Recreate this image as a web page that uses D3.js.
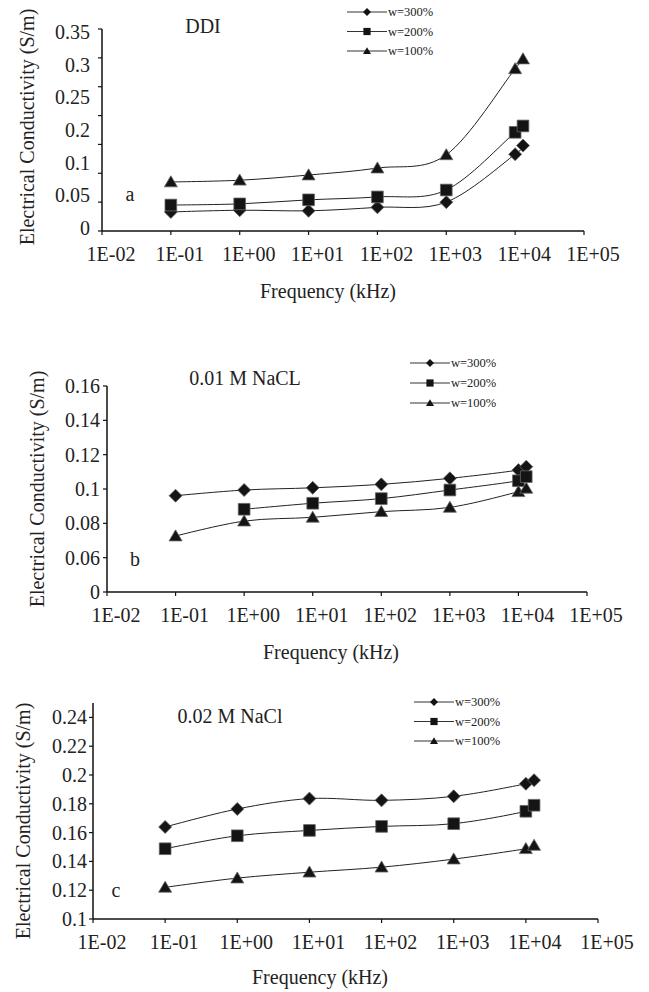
<!DOCTYPE html>
<html>
<head>
<meta charset="utf-8">
<script src="https://cdn.jsdelivr.net/npm/d3@7"></script>
<style>
  body { margin: 0; background: #fff; }
</style>
</head>
<body>
<div id="chart"></div>
<script>
// frequencies (kHz), same for all three panels
var freq = [0.1, 1, 10, 100, 1000, 10000, 13000];
var xTickValues = [1e-2, 1e-1, 1e0, 1e1, 1e2, 1e3, 1e4, 1e5];
var xTickLabels = ["1E-02", "1E-01", "1E+00", "1E+01", "1E+02", "1E+03", "1E+04", "1E+05"];
var seriesNames = ["w=300%", "w=200%", "w=100%"];
var seriesShapes = ["diamond", "square", "triangle"];

// panel a: DDI
var ddiW300 = [0.033, 0.036, 0.035, 0.041, 0.050, 0.133, 0.148];
var ddiW200 = [0.045, 0.047, 0.054, 0.059, 0.071, 0.171, 0.182];
var ddiW100 = [0.085, 0.088, 0.097, 0.109, 0.132, 0.281, 0.298];
var ddiYTicks = [0, 0.05, 0.1, 0.15, 0.2, 0.25, 0.3, 0.35];
var ddiYLabels = ["0", "0.05", "0.1", "0.2", "0.25", "0.3", "0.35"];

// panel b: 0.01 M NaCl
var nacl1W300 = [0.0961, 0.0994, 0.1007, 0.1027, 0.1062, 0.1110, 0.1130];
var nacl1W200 = [null, 0.0882, 0.0917, 0.0944, 0.0994, 0.1048, 0.1072];
var nacl1W100 = [0.0726, 0.0813, 0.0835, 0.0868, 0.0893, 0.0984, 0.1004];
var nacl1YTicks = [0.04, 0.06, 0.08, 0.10, 0.12, 0.14, 0.16];
var nacl1YLabels = ["0", "0.06", "0.08", "0.1", "0.12", "0.14", "0.16"];

// panel c: 0.02 M NaCl
var nacl2W300 = [0.1639, 0.1764, 0.1836, 0.1824, 0.1852, 0.1939, 0.1964];
var nacl2W200 = [0.1488, 0.1578, 0.1615, 0.1643, 0.1662, 0.1748, 0.1790];
var nacl2W100 = [0.1220, 0.1284, 0.1325, 0.1360, 0.1416, 0.1488, 0.1511];
var nacl2YTicks = [0.10, 0.12, 0.14, 0.16, 0.18, 0.20, 0.22, 0.24];
var nacl2YLabels = ["0.1", "0.12", "0.14", "0.16", "0.18", "0.2", "0.22", "0.24"];

var serif = "'Liberation Serif', 'Times New Roman', Times, serif";

var svg = d3.select("#chart").append("svg")
    .attr("width", 649)
    .attr("height", 992)
    .style("font-family", serif);

function txt(sel, size) {
    return sel.style("font-family", serif)
        .style("font-size", size + "px")
        .attr("fill", "#222");
}

function markerPath(shape, s) {
    if (shape == "diamond") return "M0," + (-s) + "L" + s + ",0L0," + s + "L" + (-s) + ",0Z";
    if (shape == "square") { var h = s * 0.9; return "M" + (-h) + "," + (-h) + "H" + h + "V" + h + "H" + (-h) + "Z"; }
    return "M0," + (-s * 0.95) + "L" + s + "," + (s * 0.75) + "L" + (-s) + "," + (s * 0.75) + "Z";
}

function drawPanel(p) {
    var g = svg.append("g");
    var x = d3.scaleLog().domain([1e-2, 1e5]).range([p.left, p.right]);
    var y = d3.scaleLinear().domain(p.yDomain).range([p.bottom, p.top]);

    // axes lines
    g.append("line").attr("x1", p.left).attr("x2", p.left).attr("y1", p.top).attr("y2", p.bottom)
        .attr("stroke", "#111").attr("stroke-width", 1.5);
    g.append("line").attr("x1", p.left).attr("x2", p.right).attr("y1", p.bottom).attr("y2", p.bottom)
        .attr("stroke", "#111").attr("stroke-width", 1.5);

    // y ticks
    g.selectAll(".yt").data(p.yTicks).enter().append("line")
        .attr("x1", p.left - 4).attr("x2", p.left)
        .attr("y1", d => y(d)).attr("y2", d => y(d))
        .attr("stroke", "#111").attr("stroke-width", 1.2);

    // y tick labels (panel a labels are evenly spread, not on the ticks)
    var ly;
    if (p.labelPoints) {
        var pt = d3.scalePoint().domain(p.yLabels).range(p.labelRange);
        ly = (d, i) => pt(d);
    } else {
        ly = (d, i) => y(p.yTicks[i]);
    }
    txt(g.selectAll(".yl").data(p.yLabels).enter().append("text"), 20)
        .attr("x", p.left - p.labelGap)
        .attr("y", (d, i) => ly(d, i))
        .attr("dy", "0.35em")
        .attr("text-anchor", "end")
        .text(d => d);

    // x ticks
    g.selectAll(".xt").data(xTickValues).enter().append("line")
        .attr("x1", d => x(d)).attr("x2", d => x(d))
        .attr("y1", p.bottom).attr("y2", p.bottom + 4)
        .attr("stroke", "#111").attr("stroke-width", 1.2);
    txt(g.selectAll(".xl").data(xTickLabels).enter().append("text"), 20)
        .attr("x", (d, i) => x(xTickValues[i]) + 9)
        .attr("y", p.bottom + 30)
        .attr("text-anchor", "middle")
        .text(d => d);

    // axis titles
    txt(g.append("text"), 20)
        .attr("x", p.xTitleX).attr("y", p.xTitleY)
        .attr("text-anchor", "middle")
        .text("Frequency (kHz)");
    txt(g.append("text"), 20)
        .attr("transform", "translate(" + p.yTitleX + "," + p.yTitleY + ") rotate(-90)")
        .attr("text-anchor", "middle")
        .attr("dy", "0.35em")
        .text("Electrical Conductivity (S/m)");

    // panel title and letter
    txt(g.append("text"), 20).attr("x", p.titleX).attr("y", p.titleY)
        .attr("text-anchor", "middle").text(p.title);
    txt(g.append("text"), 20).attr("x", p.letterX).attr("y", p.letterY)
        .attr("text-anchor", "middle").text(p.letter);

    // smoothed lines, like the spreadsheet's "smoothed line" option
    var line = d3.line()
        .x(d => x(d[0]))
        .y(d => y(d[1]))
        .curve(d3.curveCardinal.tension(0));

    p.series.forEach(function(vals, k) {
        var pts = freq.map((f, i) => [f, vals[i]]).filter(d => d[1] != null);
        g.append("path").datum(pts)
            .attr("d", line)
            .attr("fill", "none")
            .attr("stroke", "#222")
            .attr("stroke-width", 1);
    });
    p.series.forEach(function(vals, k) {
        var pts = freq.map((f, i) => [f, vals[i]]).filter(d => d[1] != null);
        g.selectAll(".m" + k).data(pts).enter().append("path")
            .attr("transform", d => "translate(" + x(d[0]) + "," + y(d[1]) + ")")
            .attr("d", markerPath(seriesShapes[k], 6.5))
            .attr("fill", "#141414")
            .attr("stroke", "#666")
            .attr("stroke-width", 0.8);
    });

    // legend
    var leg = g.append("g");
    seriesNames.forEach(function(name, k) {
        var ry = p.legendY + k * p.legendStep;
        leg.append("line").attr("x1", p.legendX).attr("x2", p.legendX + 40)
            .attr("y1", ry).attr("y2", ry).attr("stroke", "#333").attr("stroke-width", 1);
        leg.append("path").attr("transform", "translate(" + (p.legendX + 20) + "," + ry + ")")
            .attr("d", markerPath(seriesShapes[k], 4))
            .attr("fill", "#141414");
        txt(leg.append("text"), 12.5).attr("x", p.legendX + 41).attr("y", ry).attr("dy", "0.35em")
            .text(name);
    });
}

drawPanel({
    left: 102, right: 584, top: 29, bottom: 231,
    yDomain: [0, 0.35], yTicks: ddiYTicks, yLabels: ddiYLabels,
    labelPoints: true, labelRange: [228, 32], labelGap: 12,
    series: [ddiW300, ddiW200, ddiW100],
    xTitleX: 328, xTitleY: 298, yTitleX: 27, yTitleY: 127,
    title: "DDI", titleX: 203, titleY: 33, letter: "a", letterX: 130, letterY: 201,
    legendX: 347, legendY: 12, legendStep: 19.5
});

drawPanel({
    left: 107, right: 587, top: 386, bottom: 592,
    yDomain: [0.04, 0.16], yTicks: nacl1YTicks, yLabels: nacl1YLabels,
    labelPoints: false, labelGap: 7,
    series: [nacl1W300, nacl1W200, nacl1W100],
    xTitleX: 331, xTitleY: 659, yTitleX: 37, yTitleY: 489,
    title: "0.01 M NaCL", titleX: 245, titleY: 385, letter: "b", letterX: 135, letterY: 566,
    legendX: 410, legendY: 363, legendStep: 20
});

drawPanel({
    left: 93, right: 598, top: 703, bottom: 919,
    yDomain: [0.1, 0.25], yTicks: nacl2YTicks, yLabels: nacl2YLabels,
    labelPoints: false, labelGap: 6,
    series: [nacl2W300, nacl2W200, nacl2W100],
    xTitleX: 320, xTitleY: 984, yTitleX: 23, yTitleY: 821,
    title: "0.02 M NaCl", titleX: 230, titleY: 723, letter: "c", letterX: 116, letterY: 897,
    legendX: 414, legendY: 702, legendStep: 19.5
});
</script>
</body>
</html>
